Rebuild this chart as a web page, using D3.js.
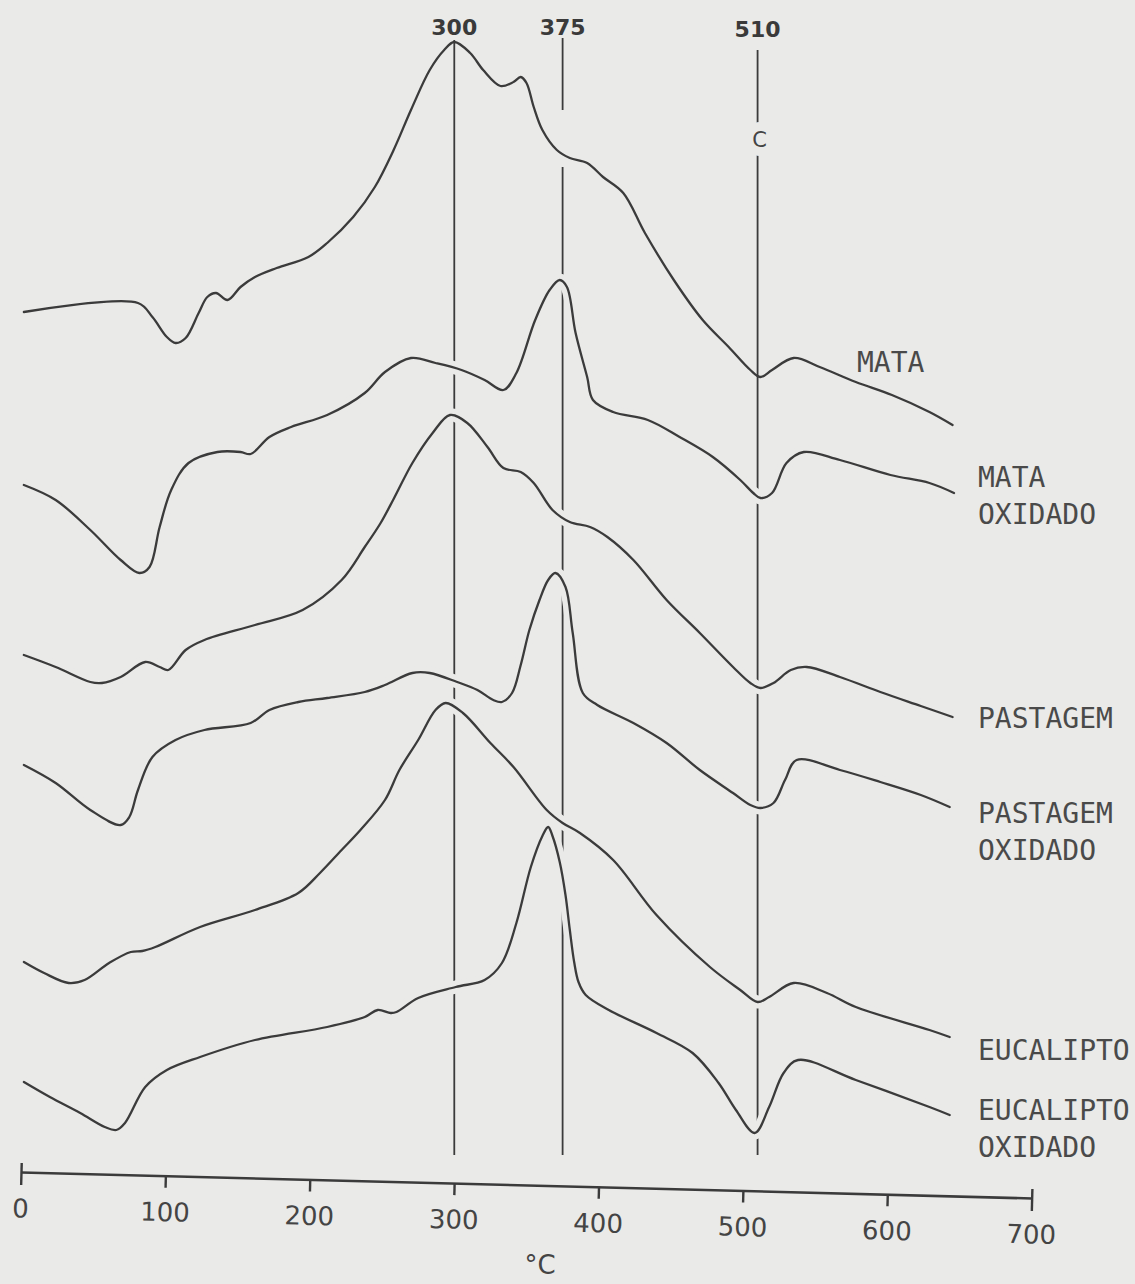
<!DOCTYPE html>
<html>
<head>
<meta charset="utf-8">
<script src="https://cdn.jsdelivr.net/npm/d3@7"></script>
<style>
  html, body { margin:0; padding:0; background:#eaeae8; }
  svg { display:block; }
</style>
</head>
<body>
<svg id="chart" width="1135" height="1284"></svg>
<script>
// DTA curves: [temperature °C, deflection (arbitrary units)]
var mata = [[2,86.8],[81,87.7],[91,86.3],[101,84.3],[107,83.7],[114,84.2],[123,86.7],[129,88.3],[135,88.7],[143,88.0],[152,89.3],[162,90.3],[177,91.2],[199,92.3],[212,93.7],[230,96.3],[245,99.3],[258,103.0],[270,107.0],[283,111.0],[293,113.0],[300,113.8],[311,112.7],[320,111.0],[332,109.4],[341,109.8],[346,110.3],[350,109.7],[355,107.3],[361,105.0],[371,103.0],[380,102.2],[392,101.7],[403,100.3],[417,98.7],[432,94.7],[452,90.0],[472,86.0],[490,83.3],[505,81.0],[512,80.3],[520,81.0],[535,82.2],[553,81.3],[578,79.8],[603,78.5],[629,76.8],[645,75.5]];
var mataOx = [[2,69.5],[24,68.0],[48,65.0],[69,62.0],[82,60.7],[89,61.3],[96,65.3],[104,69.0],[116,71.7],[136,72.8],[152,72.8],[159,72.6],[172,74.3],[187,75.3],[212,76.5],[238,78.7],[252,80.8],[270,82.2],[287,81.7],[305,81.0],[321,80.0],[334,79.0],[343,80.7],[356,86.0],[366,89.0],[373,90.0],[378,89.3],[384,84.7],[392,80.3],[396,78.0],[410,76.8],[434,76.0],[456,74.3],[479,72.3],[498,70.0],[507,68.7],[512,68.2],[520,68.7],[530,71.7],[542,72.8],[567,72.0],[602,70.5],[629,69.7],[646,68.7]];
var pastagem = [[2,52.5],[24,51.3],[48,49.8],[56,49.7],[69,50.3],[86,51.8],[96,51.3],[102,51.0],[114,53.0],[127,54.0],[162,55.5],[195,57.0],[222,60.0],[238,63.3],[249,65.7],[258,68.1],[271,71.7],[285,74.7],[297,76.5],[309,75.7],[323,73.3],[334,71.2],[346,70.8],[355,69.7],[368,67.0],[380,65.8],[394,65.3],[406,64.3],[424,62.0],[447,58.0],[470,54.7],[493,51.3],[505,49.7],[512,49.2],[521,49.7],[533,51.0],[544,51.3],[567,50.3],[595,48.8],[623,47.4],[645,46.3]];
var pastagemOx = [[2,41.5],[24,39.7],[48,37.0],[69,35.5],[75,36.3],[81,39.0],[91,42.3],[107,44.0],[127,45.0],[159,45.7],[172,47.0],[192,47.8],[212,48.2],[238,48.8],[252,49.5],[271,50.7],[283,50.7],[302,49.8],[316,49.0],[327,48.0],[333,47.8],[340,48.7],[346,51.5],[352,55.0],[359,58.0],[365,60.0],[370,60.7],[377,59.3],[382,54.7],[389,48.7],[399,47.5],[424,45.7],[447,43.7],[470,41.0],[493,38.7],[505,37.5],[512,37.2],[521,37.7],[529,40.0],[537,42.0],[567,41.0],[595,39.8],[623,38.5],[643,37.3]];
var eucalipto = [[2,21.8],[16,20.7],[33,19.7],[44,20.0],[61,21.7],[76,22.8],[84,22.9],[93,23.3],[124,25.3],[162,27.0],[192,28.7],[207,30.7],[222,33.0],[235,35.0],[252,38.0],[262,41.0],[275,44.0],[287,47.0],[294,47.7],[306,46.7],[325,43.7],[341,41.3],[364,37.0],[375,35.7],[387,34.7],[410,32.0],[440,26.5],[477,21.3],[498,19.0],[510,17.8],[518,18.3],[535,19.7],[558,18.7],[578,17.3],[629,15.0],[643,14.3]];
var eucaliptoOx = [[2,9.8],[20,8.3],[41,6.7],[58,5.3],[66,5.0],[72,5.7],[86,9.3],[101,11.0],[124,12.3],[162,14.0],[212,15.3],[238,16.3],[247,17.0],[256,16.7],[260,16.8],[275,18.2],[301,19.3],[321,20.0],[333,21.7],[343,25.7],[353,31.3],[361,34.4],[365,35.3],[368,34.4],[373,31.8],[377,28.5],[380,25.0],[383,21.8],[386,19.8],[391,18.5],[407,17.0],[440,14.7],[465,12.7],[483,9.7],[495,7.0],[508,4.7],[518,7.3],[528,10.7],[538,12.0],[578,10.0],[629,7.3],[643,6.5]];

var seriesNames = ["MATA", "MATA OXIDADO", "PASTAGEM", "PASTAGEM OXIDADO", "EUCALIPTO", "EUCALIPTO OXIDADO"];
var seriesValues = [mata, mataOx, pastagem, pastagemOx, eucalipto, eucaliptoOx];

var tickValues = [0, 100, 200, 300, 400, 500, 600, 700];
var refTemps = [300, 375, 510];
var refLabels = ["300", "375", "510"];
// drawn pieces of each marker line, in deflection units (top, bottom)
var refPieces = [[300, 114, 2.5], [375, 114.2, 107], [375, 101.3, 2.5], [510, 113, 2.5]];

var W = 1135, H = 1284;
var bg = "#eaeae8", ink = "#3b3b3b";

var svg = d3.select("#chart");
svg.append("rect").attr("width", W).attr("height", H).attr("fill", bg);

var x = d3.scaleLinear().domain([0, 700]).range([21, 1032]);
var y = d3.scaleLinear().domain([0, 118]).range([1180, 0]);

svg.append("g").selectAll("line").data(refPieces).join("line")
    .attr("x1", d => x(d[0])).attr("x2", d => x(d[0]))
    .attr("y1", d => y(d[1])).attr("y2", d => y(d[2]))
    .attr("stroke", ink).attr("stroke-width", 1.8);

svg.append("g").selectAll("text").data(refTemps).join("text")
    .attr("x", d => x(d)).attr("y", (d, i) => i == 2 ? 37 : 35)
    .attr("text-anchor", "middle")
    .attr("font-family", "DejaVu Sans").attr("font-weight", "bold").attr("font-size", 22)
    .attr("fill", "#3a3a3a")
    .text((d, i) => refLabels[i]);

svg.append("text")
    .attr("x", x(510) + 2).attr("y", 147)
    .attr("text-anchor", "middle")
    .attr("font-family", "DejaVu Sans").attr("font-size", 21)
    .attr("fill", "#444")
    .attr("stroke", bg).attr("stroke-width", 18).attr("paint-order", "stroke")
    .text("C");

var line = d3.line()
    .x(d => x(d[0]))
    .y(d => y(d[1]))
    .curve(d3.curveCatmullRom.alpha(0.5));

// halo so the marker lines break where a curve crosses them (the top curve just touches)
svg.append("g").selectAll("path").data(seriesValues.slice(1)).join("path")
    .attr("d", line).attr("fill", "none")
    .attr("stroke", bg).attr("stroke-width", 13);

svg.append("g").selectAll("path").data(seriesValues).join("path")
    .attr("d", line).attr("fill", "none")
    .attr("stroke", ink).attr("stroke-width", 2.3)
    .attr("stroke-linejoin", "round").attr("stroke-linecap", "round");

// curve names, placed at the right hand end
var labelPos = {
  "MATA": [857, 372],
  "MATA OXIDADO": [978, 487],
  "PASTAGEM": [978, 728],
  "PASTAGEM OXIDADO": [978, 823],
  "EUCALIPTO": [978, 1060],
  "EUCALIPTO OXIDADO": [978, 1120]
};
seriesNames.forEach(function (name) {
  var words = name.split(" ");
  var p = labelPos[name];
  var t = svg.append("text")
      .attr("font-family", "DejaVu Sans Mono").attr("font-size", 28)
      .attr("fill", "#4a4a4a");
  words.forEach(function (w, i) {
    t.append("tspan").attr("x", p[0]).attr("y", p[1] + i * 37).text(w);
  });
});

// temperature axis, slightly tilted as on the paper
var axisG = svg.append("g")
    .attr("transform", "rotate(1.47,21,1172) translate(0,1172)")
    .call(d3.axisBottom(x).tickValues(tickValues).tickSize(12).tickSizeOuter(0)
      .tickPadding(15).tickFormat(d3.format("d")));
axisG.select(".domain").attr("stroke", ink).attr("stroke-width", 2.6);
axisG.selectAll(".tick line").attr("stroke", ink).attr("stroke-width", 2.4)
    .attr("y1", d => (d == 0 || d == 700) ? -9 : 0)
    .attr("y2", d => (d == 0 || d == 700) ? 13 : 12);
axisG.selectAll(".tick text")
    .attr("font-family", "DejaVu Sans").attr("font-size", 26)
    .attr("fill", "#444");

svg.append("text")
    .attr("x", 540).attr("y", 1274)
    .attr("text-anchor", "middle")
    .attr("font-family", "DejaVu Sans").attr("font-size", 26)
    .attr("fill", "#444")
    .text("°C");
</script>
</body>
</html>
